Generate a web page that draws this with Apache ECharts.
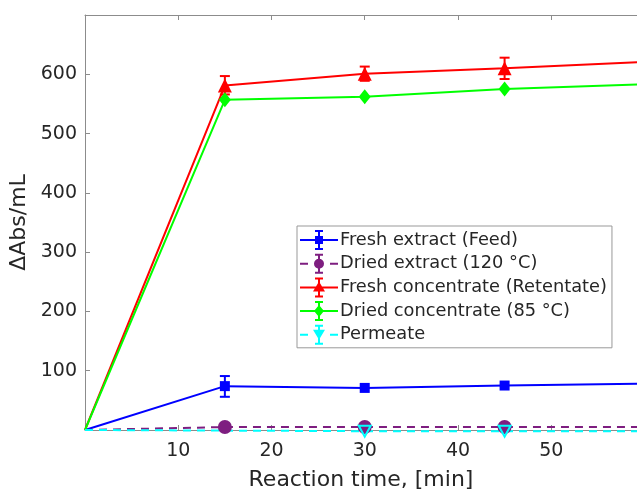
<!DOCTYPE html>
<html>
<head>
<meta charset="utf-8">
<script src="https://cdn.jsdelivr.net/npm/echarts@6/dist/echarts.min.js"></script>
<style>
  html, body { margin: 0; padding: 0; background: #fff; }
  #chart { width: 637px; height: 491px; }
</style>
</head>
<body>
<div id="chart"></div>
<script>
const times = [0, 15, 30, 45, 60]
const freshExtract = [0, 74, 71, 75, 78]
const driedExtract = [0, 5, 5, 5, 5]
const freshConcentrate = [0, 581, 601, 610, 621]
const driedConcentrate = [0, 557, 562, 575, 583]
const permeateTimes = [0, 30, 45, 60]
const permeate = [0, -2, -2, -2]

// error bars: [time, low, high]
const freshExtractErr = [[15, 56, 91]]
const freshConcentrateErr = [[15, 566, 597], [30, 589, 613], [45, 592, 628]]

const names = ['Fresh extract (Feed)', 'Dried extract (120 °C)', 'Fresh concentrate (Retentate)',
  'Dried concentrate (85 °C)', 'Permeate']
const colors = ['#0000ff', '#7e1e80', '#ff0000', '#00ff00', '#00ffff']

const font = 'DejaVu Sans, Verdana, sans-serif'

// no marker at the origin
const pairs = (xs, ys) => xs.map((x, i) => x === 0 ? { value: [x, ys[i]], symbol: 'none' } : [x, ys[i]])

// legend icons: line + error bar + marker, drawn in a 38x20 box
const solidLine = 'M0,9 H38 V11 H0 Z '
const dashLine = 'M0,9 H8 V11 H0 Z M30,9 H38 V11 H30 Z '
const errBar = 'M18,1 H20 V19 H18 Z M15,0 H23 V2 H15 Z M15,18 H23 V20 H15 Z '
const markers = [
  'M15,6 H23 V14 H15 Z',
  'M14,10 A5,5 0 1,1 24,10 A5,5 0 1,1 14,10 Z',
  'M19,4 L25,14 L13,14 Z',
  'M19,4 L24,10 L19,16 L14,10 Z',
  'M13,5 L25,5 L19,15 Z'
]
const icons = [
  solidLine + errBar + markers[0],
  dashLine + errBar + markers[1],
  solidLine + errBar + markers[2],
  solidLine + errBar + markers[3],
  dashLine + errBar + markers[4]
]

const errorBars = (data, color) => ({
  type: 'custom',
  data: data,
  z: 3,
  silent: true,
  encode: { x: 0, y: [1, 2] },
  renderItem: (params, api) => {
    const lo = api.coord([api.value(0), api.value(1)])
    const hi = api.coord([api.value(0), api.value(2)])
    const w = 5
    const style = { stroke: color, lineWidth: 2 }
    return {
      type: 'group',
      children: [
        { type: 'line', shape: { x1: lo[0], y1: lo[1], x2: hi[0], y2: hi[1] }, style },
        { type: 'line', shape: { x1: lo[0] - w, y1: lo[1], x2: lo[0] + w, y2: lo[1] }, style },
        { type: 'line', shape: { x1: hi[0] - w, y1: hi[1], x2: hi[0] + w, y2: hi[1] }, style }
      ]
    }
  }
})

const lineSeries = (idx, data, symbol, size, dashed, itemStyle) => ({
  name: names[idx],
  type: 'line',
  data: data,
  symbol: symbol,
  symbolSize: size,
  showAllSymbol: true,
  clip: true,
  itemStyle: itemStyle || { color: colors[idx] },
  lineStyle: { color: colors[idx], width: 2, type: dashed ? [8, 6] : 'solid' }
})

const axisGray = '#8c8c8c'

const chart = echarts.init(document.getElementById('chart'))
chart.setOption({
  backgroundColor: '#fff',
  animation: false,
  grid: { left: 85, right: 0, top: 15, bottom: 61, outerBoundsMode: 'none' },
  xAxis: [{
    type: 'value',
    min: 0, max: 59.2, interval: 10,
    name: 'Reaction time, [min]',
    nameLocation: 'middle',
    nameGap: 39,
    nameTextStyle: { fontFamily: font, fontSize: 22, color: '#262626' },
    axisLine: { onZero: false, lineStyle: { color: axisGray, width: 1 } },
    axisTick: { inside: true, length: 5, lineStyle: { color: axisGray } },
    axisLabel: {
      fontFamily: font, fontSize: 19, color: '#262626', margin: 12,
      formatter: v => (v === 0 || v > 59) ? '' : v
    },
    splitLine: { show: false }
  }, {
    type: 'value',
    position: 'top',
    min: 0, max: 59.2, interval: 10,
    axisLine: { onZero: false, lineStyle: { color: axisGray, width: 1 } },
    axisTick: { inside: true, length: 5, lineStyle: { color: axisGray } },
    axisLabel: { show: false },
    splitLine: { show: false }
  }],
  yAxis: {
    type: 'value',
    min: 0, max: 700, interval: 100,
    name: 'ΔAbs/mL',
    nameLocation: 'middle',
    nameGap: 48,
    nameTextStyle: { fontFamily: font, fontSize: 22, color: '#262626' },
    axisLine: { show: true, onZero: false, lineStyle: { color: axisGray, width: 1 } },
    axisTick: { show: true, inside: true, length: 5, lineStyle: { color: axisGray } },
    axisLabel: {
      fontFamily: font, fontSize: 19, color: '#262626', margin: 8,
      formatter: v => (v === 0 || v === 700) ? '' : v
    },
    splitLine: { show: false }
  },
  legend: {
    orient: 'vertical',
    left: 297,
    top: 226,
    padding: [4, 5, 3, 3],
    itemWidth: 38,
    itemHeight: 20,
    itemGap: 3.7,
    backgroundColor: '#fff',
    borderColor: '#999',
    borderWidth: 1,
    borderRadius: 0,
    textStyle: { fontFamily: font, fontSize: 17.8, color: '#262626', lineHeight: 20, padding: [0, 0, 0, -3] },
    data: names.map((n, i) => ({
      name: n,
      icon: 'path://' + icons[i],
      itemStyle: { color: colors[i], borderWidth: 0 }
    }))
  },
  series: [
    lineSeries(0, pairs(times, freshExtract), 'rect', 10, false),
    lineSeries(1, pairs(times, driedExtract), 'circle', 14, true),
    lineSeries(2, pairs(times, freshConcentrate), 'triangle', 14, false),
    lineSeries(3, pairs(times, driedConcentrate), 'diamond', [12, 15], false),
    Object.assign(lineSeries(4, pairs(permeateTimes, permeate), 'path://M0,0 L10,0 L5,10 Z', [12, 11], true,
      { color: 'rgba(0,0,0,0)', borderColor: '#00ffff', borderWidth: 2 }), { clip: false }),
    errorBars(freshExtractErr, colors[0]),
    errorBars(freshConcentrateErr, colors[2]),
    // empty series so the top axis has something bound to it
    { type: 'line', xAxisIndex: 1, data: [], silent: true }
  ]
})
</script>
</body>
</html>
